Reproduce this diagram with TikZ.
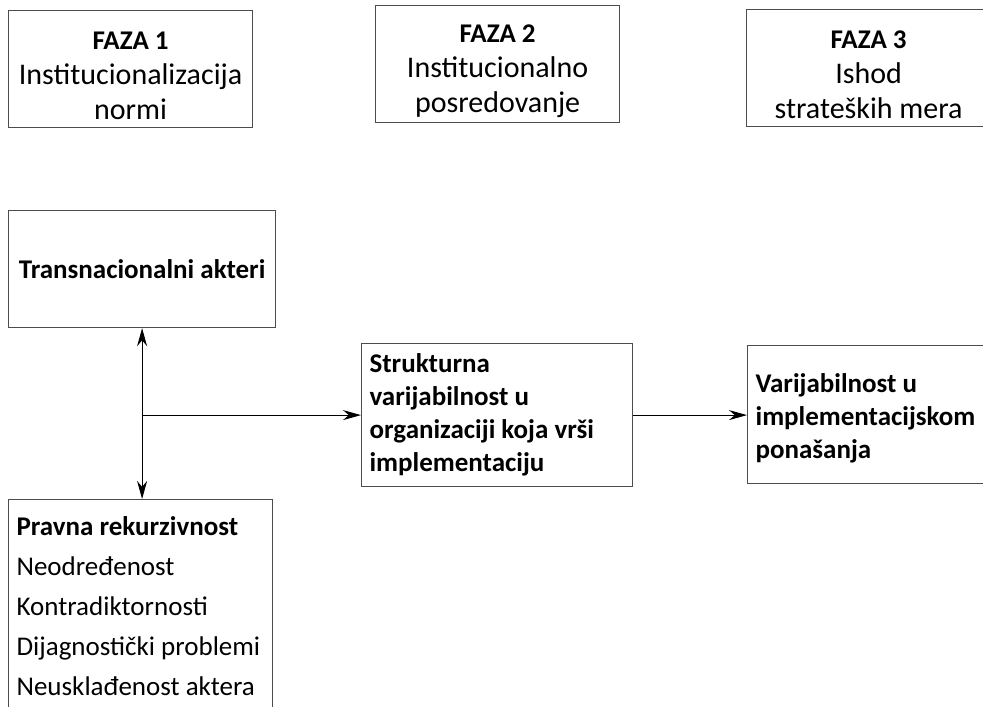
\documentclass[tikz,border=0pt]{standalone}
\usepackage{fontspec}
\setmainfont{Carlito}
\usetikzlibrary{arrows.meta}
\tikzset{
	box/.style={draw=black!70, line width=1.2pt, anchor=north west, inner sep=0pt},
	phase/.style={box, minimum width=244pt, minimum height=117pt, align=center, font=\fontsize{30}{35}\selectfont},
	link/.style={line width=0.9pt, -{Stealth[length=18pt,width=10pt]}}
}
\newcommand{\fazahead}[1]{\rule{0pt}{31pt}{\fontsize{27}{35}\selectfont\bfseries #1}}
\begin{document}
\begin{tikzpicture}[x=1pt,y=-1pt]
	\clip (0,0) rectangle (983,707);
	\node [phase] (faza1) at (8,10) {\fazahead{FAZA 1}\\Institucionalizacija\\normi};
	\node [phase] (faza2) at (375,5) {\fazahead{FAZA 2}\\Institucionalno\\posredovanje};
	\node [phase] (faza3) at (746,9) {\fazahead{FAZA 3}\\Ishod\\strateških mera};
	\node [box, minimum width=267pt, minimum height=117pt, font=\fontsize{27}{33}\selectfont\bfseries] (akteri) at (8,210) {Transnacionalni akteri};
	\node [box, minimum height=143pt, text width=255pt, inner xsep=8pt, align=flush left, font=\fontsize{27}{33}\selectfont\bfseries] (struktura) at (361,343) {Strukturna\\varijabilnost u\\organizaciji koja vrši\\implementaciju};
	\node [box, minimum height=138pt, text width=260pt, inner xsep=8pt, align=flush left, font=\fontsize{27}{33}\selectfont\bfseries] (ponasanje) at (747,345) {\rule{0pt}{26pt}Varijabilnost u\\implementacijskom\\ponašanja};
	\node [box, inner xsep=8pt, inner ysep=17pt, font=\fontsize{27}{40}\selectfont] (pravna) at (8,499) {\parbox[t][250pt][t]{248pt}{\textbf{Pravna rekurzivnost}\\Neodređenost\\Kontradiktornosti\\Dijagnostički problemi\\Neusklađenost aktera}};
	\coordinate (grana) at (akteri.south |- struktura.west);
	\draw [link, {Stealth[length=18pt,width=10pt]}-{Stealth[length=18pt,width=10pt]}] (akteri.south) -- (akteri.south |- pravna.north);
	\draw [link] (grana) -- (struktura.west);
	\draw [link] (struktura.east) -- (struktura.east -| ponasanje.west);
\end{tikzpicture}
\end{document}
